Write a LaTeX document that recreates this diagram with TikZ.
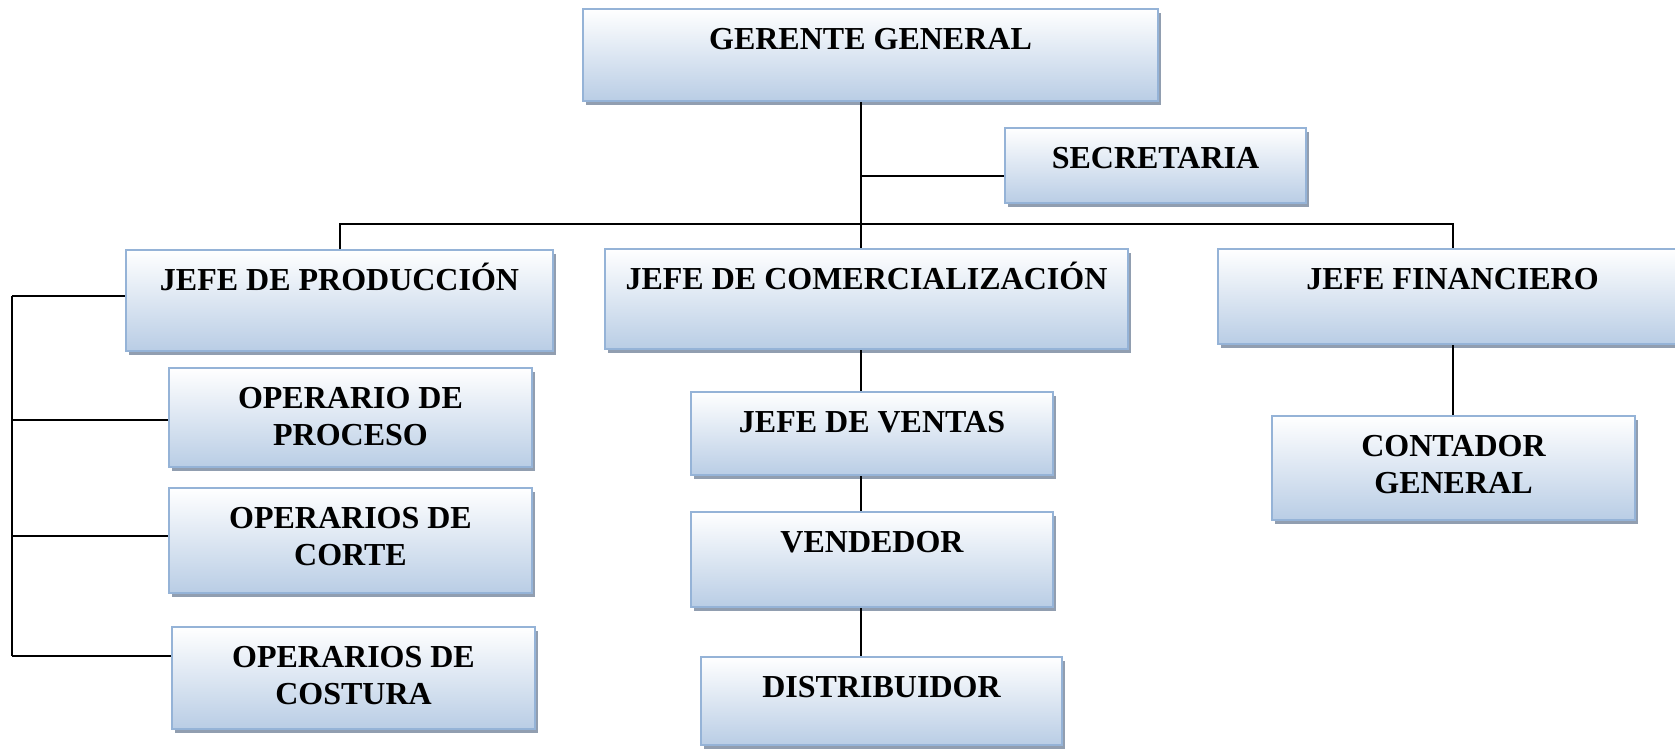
\documentclass[tikz,border=0pt]{standalone}
\usepackage{fontspec}
\setmainfont{Liberation Serif}
\usetikzlibrary{shadows}
\definecolor{boxbottom}{HTML}{B9CDE5}
\definecolor{boxline}{HTML}{95B3D7}
\definecolor{boxshadow}{HTML}{919EB0}

\tikzset{
  orgbox/.style={draw=boxline, line width=1pt, top color=white, bottom color=boxbottom,
    drop shadow={shadow xshift=1.5pt, shadow yshift=-1.75pt, fill=boxshadow, opacity=1},
    inner sep=0pt},
  boxtext/.style={anchor=base, yshift=-20.5pt, align=center, inner sep=0pt,
    font=\bfseries\fontsize{16}{18.5}\selectfont},
  boxtwo/.style={boxtext, yshift=-18.5pt},
  link/.style={line width=1pt, black}
}

\begin{document}
\begin{tikzpicture}[x=0.5pt, y=-0.5pt]
\useasboundingbox (0,0) rectangle (1675,751);
\clip (0,0) rectangle (1675,751);

% top level
\node[orgbox, minimum width=287.5pt, minimum height=46pt,
  label={[boxtext]north:GERENTE GENERAL}] (gg) at (870.5,55) {};
\node[orgbox, minimum width=150.5pt, minimum height=37.5pt,
  label={[boxtext]north:SECRETARIA}] (sec) at (1155.5,165.5) {};

% jefes
\node[orgbox, minimum width=213.5pt, minimum height=50.5pt,
  label={[boxtext]north:JEFE DE PRODUCCIÓN}] (jp) at (339.5,300.5) {};
\node[orgbox, minimum width=261.5pt, minimum height=50pt,
  label={[boxtext]north:JEFE DE COMERCIALIZACIÓN}] (jc) at (866.5,299) {};
\node[orgbox, minimum width=234.5pt, minimum height=47.5pt,
  label={[boxtext]north:JEFE FINANCIERO}] (jf) at (1452.5,296.5) {};

% produccion
\node[orgbox, minimum width=181.5pt, minimum height=49.5pt,
  label={[boxtwo]north:{OPERARIO DE\\PROCESO}}] (op) at (350.5,417.5) {};
\node[orgbox, minimum width=181.5pt, minimum height=52.5pt,
  label={[boxtwo]north:{OPERARIOS DE\\CORTE}}] (oc) at (350.5,540.5) {};
\node[orgbox, minimum width=181.5pt, minimum height=51pt,
  label={[boxtwo]north:{OPERARIOS DE\\COSTURA}}] (ocs) at (353.5,678) {};

% comercializacion
\node[orgbox, minimum width=181pt, minimum height=41.5pt,
  label={[boxtext]north:JEFE DE VENTAS}] (jv) at (872,433.5) {};
\node[orgbox, minimum width=181pt, minimum height=47.5pt,
  label={[boxtext]north:VENDEDOR}] (ve) at (872,559.5) {};
\node[orgbox, minimum width=180.5pt, minimum height=44pt,
  label={[boxtext]north:DISTRIBUIDOR}] (di) at (881.5,701) {};

% financiero
\node[orgbox, minimum width=181.5pt, minimum height=52pt,
  label={[boxtwo]north:{CONTADOR\\GENERAL}}] (cg) at (1453.5,468) {};

% connectors
\coordinate (trunk) at (861,0);
\coordinate (bus) at (0,224);
\coordinate (rail) at (12,0);
\coordinate (secin) at ([yshift=-5.25pt]sec.west);

\draw[link] (gg.south -| trunk) -- (jc.north -| trunk);
\draw[link] (trunk |- secin) -- (secin);
\draw[link] (jp.north) -- (jp.north |- bus) -- (jf.north |- bus) -- (jf.north);

\foreach \a/\b in {jc/jv, jv/ve, ve/di}
  \draw[link] (\a.south -| trunk) -- (\b.north -| trunk);
\draw[link] (jf.south) -- (jf.south |- cg.north);

\coordinate (jpin) at ([yshift=2.25pt]jp.west);
\coordinate (opin) at ([yshift=-1.25pt]op.west);
\coordinate (ocin) at ([yshift=2.25pt]oc.west);
\coordinate (ocsin) at ([yshift=11pt]ocs.west);
\draw[link] (rail |- jpin) -- (rail |- ocsin);
\foreach \n in {jpin, opin, ocin, ocsin}
  \draw[link] (rail |- \n) -- (\n);

\end{tikzpicture}
\end{document}
